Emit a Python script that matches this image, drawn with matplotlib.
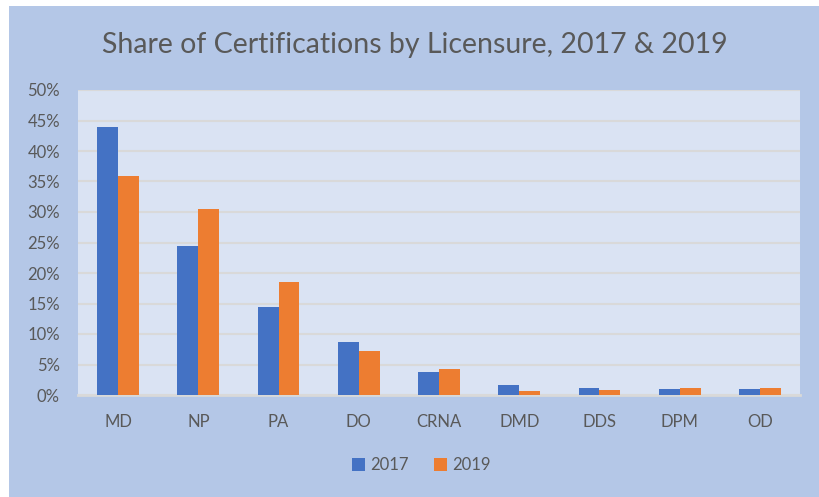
import matplotlib
matplotlib.use("Agg")
import matplotlib.pyplot as plt
from matplotlib.patches import Rectangle
from matplotlib.ticker import PercentFormatter
import numpy as np

categories = ["MD", "NP", "PA", "DO", "CRNA", "DMD", "DDS", "DPM", "OD"]
share_2017 = [44.0, 24.5, 14.4, 8.7, 3.8, 1.6, 1.1, 1.0, 1.0]
share_2019 = [35.9, 30.5, 18.6, 7.2, 4.2, 0.6, 0.8, 1.2, 1.2]

plt.rcParams['font.family'] = ['Lato', 'DejaVu Sans']
text_col = '#595959'

fig = plt.figure(figsize=(8.2, 4.97), dpi=100)
fig.patch.set_facecolor('white')
# outer chart area (white strip on left / top like the screenshot)
fig.add_artist(Rectangle((9/820, 0), 1, 1 - 6/497, transform=fig.transFigure,
                         facecolor='#B4C7E7', edgecolor='none', zorder=0))

ax = fig.add_axes([78/820, 102/497, 722/820, 305/497])
ax.set_facecolor('#DAE3F3')

x = np.arange(len(categories))
w = 0.26
ax.bar(x - w/2, share_2017, w, color='#4472C4', label='2017', zorder=3)
ax.bar(x + w/2, share_2019, w, color='#ED7D31', label='2019', zorder=3)

ax.set_xlim(-0.5, len(categories) - 0.5)
ax.set_ylim(0, 50)
ax.set_yticks(np.arange(0, 51, 5))
ax.yaxis.set_major_formatter(PercentFormatter(decimals=0))
ax.set_xticks(x)
ax.set_xticklabels(categories)
ax.grid(axis='y', color='#D9D9D9', linewidth=1.5, zorder=0)
ax.set_axisbelow(True)

for s in ['top', 'right', 'left']:
    ax.spines[s].set_visible(False)
ax.spines['bottom'].set_color('#D9D9D9')
ax.spines['bottom'].set_linewidth(2)

ax.tick_params(axis='both', length=0, colors=text_col, labelsize=12)
ax.tick_params(axis='y', pad=13)
ax.tick_params(axis='x', pad=14)

fig.text(415/820, 1 - 45/497, 'Share of Certifications by Licensure, 2017 & 2019',
         ha='center', va='center', fontsize=20.5, color=text_col)

fig.legend(loc='center', bbox_to_anchor=(421/820, 1 - 465/497), ncol=2, frameon=False,
           fontsize=12, labelcolor=text_col, handlelength=0.8, handleheight=0.8,
           handletextpad=0.3, columnspacing=1.5)

fig.savefig('out.png', dpi=100)
